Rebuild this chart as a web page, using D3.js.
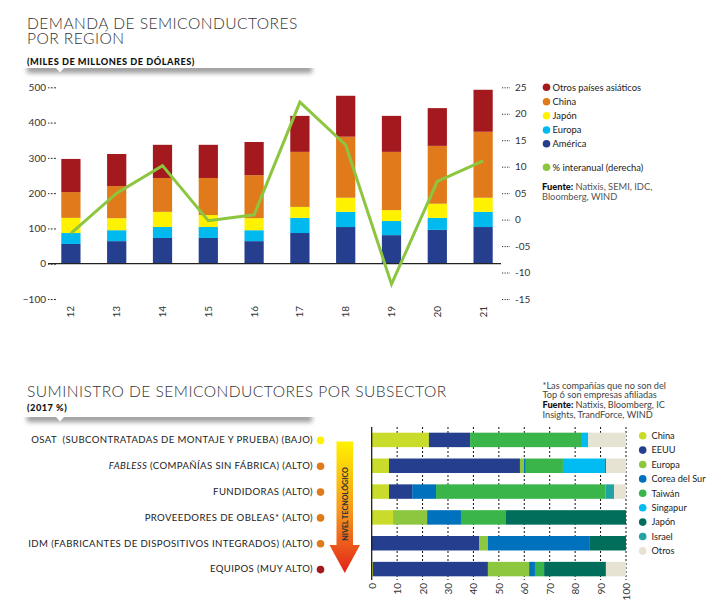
<!DOCTYPE html>
<html><head><meta charset="utf-8">
<script src="https://cdn.jsdelivr.net/npm/d3@7"></script>
<style>
body{margin:0;background:#fff;}
svg text{font-family:Lato,"Open Sans",sans-serif;}
</style></head>
<body><svg id="c" width="726" height="615"></svg>
<script>
// ---------- DATA: top chart ----------
const years = ["12","13","14","15","16","17","18","19","20","21"];
const america = [56,64,73,73,64,87,104,81,96,104];
const europa  = [31,31,31,31,31,43,43,40,34,43];
const japon   = [43,34,43,34,34,31,40,31,40,40];
const china   = [73,91,96,105,122,156,173,165,164,187];
const otros   = [94,91,94,94,94,102,116,102,107,119];
const interanual = [-2.6,5.0,10.2,-0.2,0.9,22.2,14.1,-12.2,7.2,11.1];
const leftTicks = [500,400,300,200,100,0,-100];
const rightTicks = [25,20,15,10,5,0,-5,-10,-15];
const rightTickLabels = ["25","20","15","10","05","0","-05","-10","-15"];
const topSeries = ["América","Europa","Japón","China","Otros países asiáticos"];
const topColors = ["#253f8e","#00b9ee","#fff200","#e07a1b","#a3191e"];

// ---------- DATA: bottom chart ----------
const subsectors = ["OSAT","FABLESS","FUNDIDORAS","OBLEAS","IDM","EQUIPOS"];
const countries = ["China","EEUU","Europa","Corea del Sur","Taiwán","Singapur","Japón","Israel","Otros"];
const countryColors = ["#c9dc2c","#253f8e","#8dc63f","#0071bc","#39b54a","#00bcf2","#006e5a","#1fa3a3","#e6e3d3"];
const shareChina    = [22.5,6.8,6.8,8.4,0,0.5];
const shareEEUU     = [16.2,51.5,9.1,0,42.2,45.2];
const shareEuropa   = [0,1.6,0,13.4,3.5,16.2];
const shareCorea    = [0,0.7,9.4,13.3,40.1,2.3];
const shareTaiwan   = [43.6,14.6,66.7,17.7,0,3.6];
const shareSingapur = [2.8,16.5,0,0,0,0];
const shareJapon    = [0,0.4,0,47.2,14.2,24.3];
const shareIsrael   = [0,0,3.3,0,0,0];
const shareOtros    = [14.9,7.9,4.7,0,0,7.9];
const xTicksBottom = [0,10,20,30,40,50,60,70,80,90,100];

const svg = d3.select("#c");
const defs = svg.append("defs");
defs.append("filter").attr("id","blur").attr("x","-10%").attr("y","-200%").attr("width","120%").attr("height","500%")
  .append("feGaussianBlur").attr("stdDeviation","2.6");
defs.append("clipPath").attr("id","clipTop").append("rect").attr("x",0).attr("y",68).attr("width",726).attr("height",20);
defs.append("clipPath").attr("id","clipBot").append("rect").attr("x",0).attr("y",417).attr("width",726).attr("height",20);
const grad = defs.append("linearGradient").attr("id","arrowGrad").attr("x1",0).attr("y1",0).attr("x2",0).attr("y2",1);
grad.append("stop").attr("offset","0%").attr("stop-color","#fff200");
grad.append("stop").attr("offset","55%").attr("stop-color","#f7941d");
grad.append("stop").attr("offset","100%").attr("stop-color","#e2231a");

function banner(y0){
  const g = svg.append("g").attr("clip-path", y0<100?"url(#clipTop)":"url(#clipBot)");
  g.append("rect").attr("x",27).attr("y",y0-3).attr("width",285).attr("height",8)
    .attr("fill","#9a9a9a").attr("filter","url(#blur)");
  svg.append("path").attr("d",`M56,${y0} L64,${y0} L60,${y0+4.5} Z`).attr("fill","#fff");
}

// ---------- TOP CHART ----------
const t1 = svg.append("text").attr("x",27).attr("y",29).attr("font-size",15.6).attr("font-weight",300).attr("letter-spacing",0.45).attr("fill","#333");
t1.append("tspan").attr("x",27).attr("y",29).text("DEMANDA DE SEMICONDUCTORES");
t1.append("tspan").attr("x",27).attr("y",44).text("POR REGIÓN");
svg.append("text").attr("x",27).attr("y",65).attr("font-size",9.2).attr("font-weight",900).attr("letter-spacing",0.5).attr("fill","#111")
  .text("(MILES DE MILLONES DE DÓLARES)");
banner(68);

const x = d3.scaleBand().domain(years).range([48,506]).paddingInner(0.58).paddingOuter(0.29);
const yL = d3.scaleLinear().domain([-100,500]).range([299,87.3]);
const yR = d3.scaleLinear().domain([-15,25]).range([299,87.3]);

const rows = years.map((yr,i)=>({yr, "América":america[i],"Europa":europa[i],"Japón":japon[i],"China":china[i],"Otros países asiáticos":otros[i]}));
const stack = d3.stack().keys(topSeries)(rows);
const gBars = svg.append("g");
stack.forEach((layer,li)=>{
  gBars.selectAll(null).data(layer).enter().append("rect")
    .attr("x",d=>x(d.data.yr)).attr("width",x.bandwidth())
    .attr("y",d=>yL(d[1])).attr("height",d=>yL(d[0])-yL(d[1]))
    .attr("fill",topColors[li]);
});

// left axis
const axL = d3.axisLeft(yL).tickValues(leftTicks).tickSize(8).tickPadding(2);
const gL = svg.append("g").attr("transform","translate(56,0)").call(axL);
gL.select(".domain").remove();
gL.selectAll(".tick line").attr("stroke","#333").attr("stroke-dasharray","2,1.3");
gL.selectAll(".tick text").attr("font-size",10).attr("fill","#333").attr("font-family","Lato, sans-serif");

// right axis
const axR = d3.axisRight(yR).tickValues(rightTicks).tickSize(8).tickPadding(5)
  .tickFormat((d,i)=>rightTickLabels[i]);
const gR = svg.append("g").attr("transform","translate(502,0)").call(axR);
gR.select(".domain").remove();
gR.selectAll(".tick line").attr("stroke","#333").attr("stroke-dasharray","1.2,1.3");
gR.selectAll(".tick text").attr("font-size",10).attr("fill","#333").attr("font-family","Lato, sans-serif");

// baseline
svg.append("line").attr("x1",48).attr("x2",501).attr("y1",yL(0)).attr("y2",yL(0)).attr("stroke","#222").attr("stroke-width",1.2);

// x labels
const axX = d3.axisBottom(x).tickSize(0);
const gX = svg.append("g").attr("transform","translate(0,306)").call(axX);
gX.select(".domain").remove();
gX.selectAll(".tick text").attr("font-size",10).attr("fill","#333").attr("font-family","Lato, sans-serif")
  .attr("text-anchor","end").attr("transform","rotate(-90)").attr("x",0).attr("y",0).attr("dy","0.35em");

// line
const line = d3.line().x((d,i)=>x(years[i])+x.bandwidth()/2).y(d=>yR(d));
svg.append("path").datum(interanual).attr("d",line).attr("fill","none").attr("stroke","#8cc63f").attr("stroke-width",3).attr("stroke-linejoin","miter");

// legend top
const legTop = [["Otros países asiáticos","#a3191e",87.3],["China","#e07a1b",101.7],["Japón","#fff200",115.7],["Europa","#00b9ee",130],["América","#253f8e",143.7],["% interanual (derecha)","#8cc63f",167.3]];
legTop.forEach(([t,c,yy])=>{
  svg.append("circle").attr("cx",546.5).attr("cy",yy).attr("r",3.8).attr("fill",c);
  svg.append("text").attr("x",552.5).attr("y",yy).attr("dy","0.35em").attr("font-size",9.4).attr("fill","#222").text(t);
});
const f1 = svg.append("text").attr("x",542).attr("y",190).attr("font-size",9.3).attr("fill","#555");
f1.append("tspan").attr("font-weight",900).attr("fill","#111").text("Fuente: ");
f1.append("tspan").text("Natixis, SEMI, IDC,");
svg.append("text").attr("x",542).attr("y",200).attr("font-size",9.3).attr("fill","#555").text("Bloomberg, WIND");

// ---------- BOTTOM CHART ----------
svg.append("text").attr("x",27).attr("y",397).attr("font-size",15.6).attr("font-weight",300).attr("letter-spacing",0.45).attr("fill","#333")
  .text("SUMINISTRO DE SEMICONDUCTORES POR SUBSECTOR");
svg.append("text").attr("x",27).attr("y",411).attr("font-size",9.2).attr("font-weight",900).attr("letter-spacing",0.5).attr("fill","#111")
  .text("(2017 %)");
banner(417);

const notes = [["","*Las compañías que no son del"],["","Top 6 son empresas afiliadas"],["Fuente: ","Natixis, Bloomberg, IC"],["","Insights, TrandForce, WIND"]];
notes.forEach(([b,t],i)=>{
  const tx = svg.append("text").attr("x",542.5).attr("y",388.5+i*9.8).attr("font-size",9.2).attr("fill","#444");
  if(b) tx.append("tspan").attr("font-weight",900).attr("fill","#111").text(b);
  tx.append("tspan").text(t);
});

const yB = d3.scaleBand().domain(subsectors).range([427,582]).paddingInner(0.44).paddingOuter(0.22);
const xB = d3.scaleLinear().domain([0,100]).range([371.7,626]);

// grid
svg.append("g").selectAll("line").data(xTicksBottom.filter(d=>d>0)).enter().append("line")
  .attr("x1",d=>xB(d)).attr("x2",d=>xB(d)).attr("y1",427).attr("y2",580)
  .attr("stroke","#111").attr("stroke-width",1).attr("stroke-dasharray","2,2");

const bRows = subsectors.map((s,i)=>({s,"China":shareChina[i],"EEUU":shareEEUU[i],"Europa":shareEuropa[i],"Corea del Sur":shareCorea[i],"Taiwán":shareTaiwan[i],"Singapur":shareSingapur[i],"Japón":shareJapon[i],"Israel":shareIsrael[i],"Otros":shareOtros[i]}));
const bStack = d3.stack().keys(countries)(bRows);
bStack.forEach((layer,li)=>{
  svg.append("g").selectAll("rect").data(layer).enter().append("rect")
    .attr("y",d=>yB(d.data.s)).attr("height",yB.bandwidth())
    .attr("x",d=>xB(d[0])).attr("width",d=>Math.max(0,xB(d[1])-xB(d[0])))
    .attr("fill",countryColors[li]);
});
svg.append("line").attr("x1",xB(0)).attr("x2",xB(0)).attr("y1",427).attr("y2",580).attr("stroke","#111").attr("stroke-width",1.2);

const axB = d3.axisBottom(xB).tickValues(xTicksBottom).tickSize(0);
const gB = svg.append("g").attr("transform","translate(0,583)").call(axB);
gB.select(".domain").remove();
gB.selectAll(".tick text").attr("font-size",10).attr("fill","#333").attr("font-family","Lato, sans-serif")
  .attr("text-anchor","end").attr("transform","rotate(-90)").attr("x",0).attr("y",0).attr("dy","0.35em");

// category labels
const catLabels = [
  [null,"OSAT  (SUBCONTRATADAS DE MONTAJE Y PRUEBA) (BAJO)","#fff200"],
  ["FABLESS"," (COMPAÑÍAS SIN FÁBRICA) (ALTO)","#e07a1b"],
  [null,"FUNDIDORAS (ALTO)","#e07a1b"],
  [null,"PROVEEDORES DE OBLEAS* (ALTO)","#e07a1b"],
  [null,"IDM (FABRICANTES DE DISPOSITIVOS INTEGRADOS) (ALTO)","#e07a1b"],
  [null,"EQUIPOS (MUY ALTO)","#a3191e"]];
catLabels.forEach(([it,t,c],i)=>{
  const cy = yB(subsectors[i]) + yB.bandwidth()/2;
  const tx = svg.append("text").attr("x",313).attr("y",cy).attr("dy","0.35em").attr("text-anchor","end")
    .attr("font-size",9.6).attr("letter-spacing",0.38).attr("fill","#222").attr("xml:space","preserve");
  if(it) tx.append("tspan").attr("font-style","italic").text(it);
  tx.append("tspan").text(t);
  svg.append("circle").attr("cx",320.5).attr("cy",cy+0.5).attr("r",3.8).attr("fill",c);
});

// arrow
svg.append("path").attr("d","M336.5,441.5 L353,441.5 L353,545 L360,545 L344.75,573 L329.5,545 L336.5,545 Z").attr("fill","url(#arrowGrad)");
svg.append("text").attr("transform","translate(347.5,504) rotate(-90)").attr("text-anchor","middle")
  .attr("font-size",7.2).attr("font-weight",900).attr("fill","#333").text("NIVEL TECNOLÓGICO");

// bottom legend
countries.forEach((c,i)=>{
  const yy = 435.7 + i*14.4;
  svg.append("circle").attr("cx",642.7).attr("cy",yy).attr("r",3.8).attr("fill",countryColors[i]);
  svg.append("text").attr("x",651.5).attr("y",yy).attr("dy","0.35em").attr("font-size",9.2).attr("fill","#222").text(c);
});
</script></body></html>
